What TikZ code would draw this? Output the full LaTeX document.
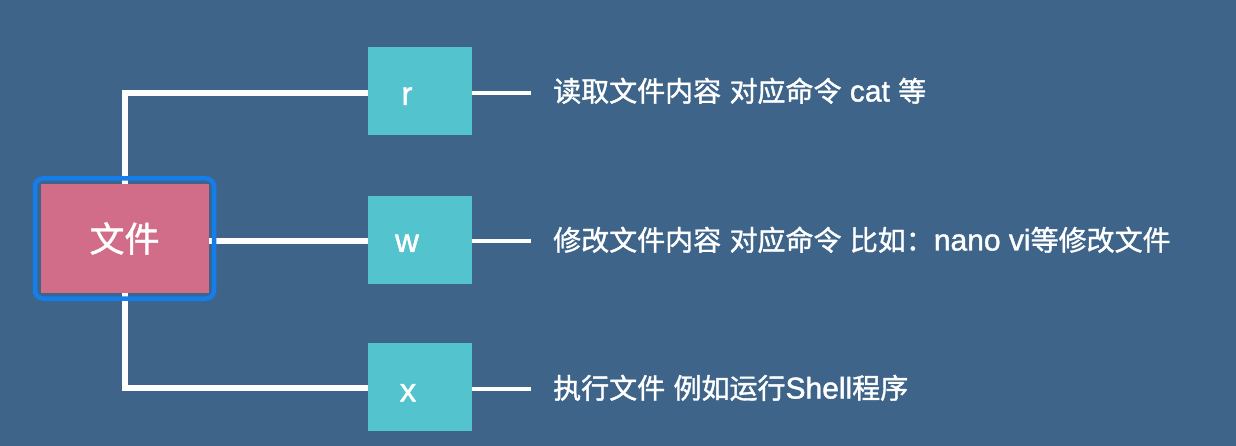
\documentclass[tikz,border=0pt]{standalone}
\usepackage{fontspec}
\newfontfamily\cjk{Noto Sans CJK SC}[RawFeature={embolden=1.3}]
\newfontfamily\latf{Liberation Sans}[RawFeature={embolden=1.3}]
\newcommand\lat[1]{{\latf\fontsize{30}{30}\selectfont #1}}
\definecolor{bgc}{RGB}{62,100,137}
\definecolor{pinkc}{RGB}{210,109,137}
\definecolor{tealc}{RGB}{83,195,206}
\definecolor{bluec}{RGB}{20,126,236}
\tikzset{
  tbox/.style={fill=tealc, draw=none, minimum width=104pt, minimum height=88pt, inner sep=0pt},
  lbl/.style={text=white, font=\latf\fontsize{33}{33}\selectfont, inner sep=0pt, anchor=base},
  desc/.style={text=white, font=\cjk\fontsize{28}{28}\selectfont, inner sep=0pt, anchor=base west},
  conn/.style={draw=white, line width=6pt},
  stub/.style={draw=white, line width=4pt},
}
\begin{document}
\begin{tikzpicture}[x=1pt,y=-1pt]
\useasboundingbox (0,0) rectangle (1236,446);
\fill[bgc] (0,0) rectangle (1236,446);
% boxes
\node[tbox] (r) at (420,91) {};
\node[tbox] (w) at (420,240) {};
\node[tbox] (x) at (420,387) {};
\node[inner sep=0pt, minimum width=168pt, minimum height=109pt] (file) at (124.5,238.5) {};
% connectors
\draw[conn] ([yshift=-2pt]r.west) -| (file.north);
\draw[conn] ([yshift=-1pt]x.west) -| (file.south);
\draw[conn] ([yshift=-1pt]w.west) -- ([yshift=-1pt]w.west -| file.east);
% file node
\node[draw=bluec, line width=4.5pt, rounded corners=8pt, minimum width=179pt, minimum height=120pt, inner sep=0pt] (fileborder) at (124.5,238.5) {};
\node[fill=pinkc, inner sep=0pt, minimum width=168pt, minimum height=109pt, text=white, font=\cjk\fontsize{35}{35}\selectfont] (filefill) at (124.5,238.5) {文件};
% labels
\node[lbl] (rl) at (407,105) {r};
\node[lbl] (wl) at (407,252) {w};
\node[lbl] (xl) at (408,401.5) {x};
% stubs
\coordinate (re) at (531,93);
\coordinate (we) at (531,241);
\coordinate (xe) at (531,389);
\draw[stub] ([yshift=-2pt]r.east) -- (re);
\draw[stub] ([yshift=-1pt]w.east) -- (we);
\draw[stub] ([yshift=-2pt]x.east) -- (xe);
% descriptions
\node[desc] (rd) at (553,101.5) {读取文件内容\lat{ }对应命令\lat{ cat }等};
\node[desc] (wd) at (553,250.5) {修改文件内容\lat{ }对应命令\lat{ }比如：\lat{nano vi}等修改文件};
\node[desc] (xd) at (553,398.5) {执行文件\lat{ }例如运行\lat{Shell}程序};
\end{tikzpicture}
\end{document}
